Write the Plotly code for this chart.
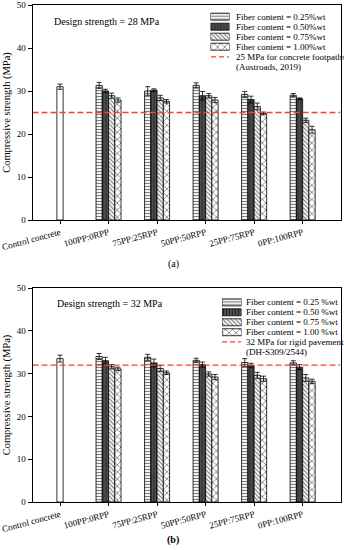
import plotly.graph_objects as go

categories = ["Control concrete", "100PP:0RPP", "75PP:25RPP", "50PP:50RPP", "25PP:75RPP", "0PP:100RPP"]

# Chart (a) - design strength 28 MPa
control_a = 31.0
control_a_err = 0.6
a_025 = [31.3, 30.0, 31.3, 29.2, 29.0]
a_025_err = [0.7, 1.0, 0.6, 0.7, 0.4]
a_050 = [30.0, 30.2, 28.9, 28.0, 28.2]
a_050_err = [0.4, 0.3, 1.0, 0.8, 0.2]
a_075 = [28.9, 28.4, 28.9, 26.4, 23.2]
a_075_err = [0.6, 0.6, 0.5, 0.8, 0.5]
a_100 = [27.9, 27.6, 27.9, 24.8, 21.0]
a_100_err = [0.5, 0.4, 0.6, 0.3, 0.8]
limit_a = 25

# Chart (b) - design strength 32 MPa
control_b = 33.5
control_b_err = 0.8
b_025 = [34.0, 33.8, 33.1, 32.6, 32.5]
b_025_err = [0.7, 0.7, 0.5, 0.9, 0.5]
b_050 = [33.0, 32.5, 32.1, 31.9, 31.5]
b_050_err = [0.8, 0.9, 0.6, 0.5, 0.6]
b_075 = [31.6, 31.2, 29.9, 29.6, 29.0]
b_075_err = [0.5, 0.7, 0.5, 0.7, 0.8]
b_100 = [31.1, 30.2, 29.2, 28.8, 28.2]
b_100_err = [0.4, 0.4, 0.6, 0.6, 0.5]
limit_b = 32

legend_a = ["Fiber content = 0.25%wt", "Fiber content = 0.50%wt",
            "Fiber content = 0.75%wt", "Fiber content = 1.00%wt"]
line_label_a = ["25 MPa for concrete footpaths", "(Austroads, 2019)"]
legend_b = ["Fiber content = 0.25 %wt", "Fiber content = 0.50 %wt",
            "Fiber content = 0.75 %wt", "Fiber content = 1.00 %wt"]
line_label_b = ["32 MPa for rigid pavement", "(DH-S309/2544)"]

FONT = "Liberation Serif"
styles = [
    dict(color="white", pattern=dict(shape="-", fgcolor="black", bgcolor="white", size=3, solidity=0.4)),
    dict(color="#555555", pattern=dict(shape="|", fgcolor="black", bgcolor="#555555", size=3, solidity=0.45)),
    dict(color="white", pattern=dict(shape="\\", fgcolor="black", bgcolor="white", size=3, solidity=0.4)),
    dict(color="white", pattern=dict(shape="x", fgcolor="black", bgcolor="white", size=5, solidity=0.3)),
]
BW = 0.129
offsets = [-2 * BW, -BW, 0, BW]
XR = [-0.567, 5.78]

fig = go.Figure()

def add_panel(xa, ya, control, control_err, series, errs, limit):
    xs = list(range(1, len(categories)))
    fig.add_trace(go.Bar(
        x=[0], y=[control], width=BW, offset=-BW / 2,
        marker=dict(color="white", line=dict(color="black", width=0.8)),
        error_y=dict(type="data", array=[control_err], color="black", thickness=0.8, width=2.5),
        xaxis=xa, yaxis=ya, showlegend=False))
    for i, (vals, err) in enumerate(zip(series, errs)):
        fig.add_trace(go.Bar(
            x=xs, y=vals, width=BW, offset=offsets[i],
            marker=dict(color=styles[i]["color"], pattern=styles[i]["pattern"],
                        line=dict(color="black", width=0.8)),
            error_y=dict(type="data", array=err, color="black", thickness=0.8, width=2.5),
            xaxis=xa, yaxis=ya, showlegend=False))
    fig.add_trace(go.Scatter(
        x=XR, y=[limit, limit], mode="lines",
        line=dict(color="#ff3b3b", width=1.3, dash="6px,3px"),
        xaxis=xa, yaxis=ya, showlegend=False, hoverinfo="skip"))

add_panel("x", "y", control_a, control_a_err, [a_025, a_050, a_075, a_100],
          [a_025_err, a_050_err, a_075_err, a_100_err], limit_a)
add_panel("x2", "y2", control_b, control_b_err, [b_025, b_050, b_075, b_100],
          [b_025_err, b_050_err, b_075_err, b_100_err], limit_b)

# legend keys (swatches) drawn as patterned bars on small helper axes
def add_keys(xa, ya, labels):
    for i, lab in enumerate(labels):
        fig.add_trace(go.Bar(
            x=[1], y=[i], orientation="h", width=0.7,
            marker=dict(color=styles[i]["color"], pattern=styles[i]["pattern"],
                        line=dict(color="black", width=0.8)),
            xaxis=xa, yaxis=ya, showlegend=False, hoverinfo="skip", name=lab))

add_keys("x3", "y3", legend_a)
add_keys("x4", "y4", legend_b)

def px_y(py):
    return (550 - py) / 550

def px_x(px):
    return px / 344

axis_common = dict(showline=True, linecolor="black", linewidth=1, mirror=True, automargin=False,
                   showgrid=False, zeroline=False, ticks="outside", tickcolor="black",
                   tickfont=dict(family=FONT, size=9, color="black"))
hidden = dict(visible=False, fixedrange=True, automargin=False)
xdom = [px_x(32.5), px_x(340.5)]
ytitle = dict(text="Compressive strength (MPa)", standoff=4,
              font=dict(family=FONT, size=10.5, color="black"))

fig.update_layout(
    width=344, height=550, margin=dict(l=0, r=0, t=0, b=0, autoexpand=False),
    paper_bgcolor="white", plot_bgcolor="white", barmode="overlay",
    showlegend=False, font=dict(family=FONT, color="black"),
    xaxis=dict(domain=xdom, range=XR, tickvals=list(range(len(categories))), ticktext=categories,
               tickangle=-15, ticklen=3, anchor="y", ticklabeloverflow="allow", **axis_common),
    yaxis=dict(domain=[px_y(220), px_y(5)], range=[0, 50], dtick=10, ticklen=4, anchor="x",
               title=ytitle, **axis_common),
    xaxis2=dict(domain=xdom, range=XR, tickvals=list(range(len(categories))), ticktext=categories,
                tickangle=-15, ticklen=3, anchor="y2", ticklabeloverflow="allow", **axis_common),
    yaxis2=dict(domain=[px_y(502), px_y(288)], range=[0, 50], dtick=10, ticklen=4, anchor="x2",
                title=ytitle, **axis_common),
    xaxis3=dict(domain=[px_x(210.5), px_x(229.5)], range=[0, 1], anchor="y3", **hidden),
    yaxis3=dict(domain=[px_y(51.7), px_y(11.7)], range=[3.5, -0.5], anchor="x3", **hidden),
    xaxis4=dict(domain=[px_x(222), px_x(241.5)], range=[0, 1], anchor="y4", **hidden),
    yaxis4=dict(domain=[px_y(337.2), px_y(297.4)], range=[3.5, -0.5], anchor="x4", **hidden),
)

shapes = []
annotations = []

def legend_block(x_sw0, x_sw1, x_text, rows, labels, line_labels):
    shapes.append(dict(type="line", xref="paper", yref="paper",
                       x0=px_x(x_sw0), x1=px_x(x_sw1), y0=px_y(rows[4]), y1=px_y(rows[4]),
                       line=dict(color="#ff3b3b", width=1.3, dash="5px,3px")))
    for lab, r in zip(labels + line_labels, rows):
        annotations.append(dict(text=lab, xref="paper", yref="paper", x=px_x(x_text), y=px_y(r),
                                xanchor="left", yanchor="middle", showarrow=False,
                                font=dict(family=FONT, size=9, color="black")))

legend_block(211, 229, 234, [16.7, 26.5, 36.7, 46.7, 56.9, 67.0], legend_a, line_label_a)
legend_block(222, 241, 244, [302.3, 312.5, 322.3, 332.0, 341.8, 351.5], legend_b, line_label_b)

annotations.append(dict(text="Design strength = 28 MPa", xref="paper", yref="paper",
                        x=px_x(52), y=px_y(21.5), xanchor="left", yanchor="middle", showarrow=False,
                        font=dict(family=FONT, size=10, color="black")))
annotations.append(dict(text="Design strength = 32 MPa", xref="paper", yref="paper",
                        x=px_x(55), y=px_y(303), xanchor="left", yanchor="middle", showarrow=False,
                        font=dict(family=FONT, size=10, color="black")))
annotations.append(dict(text="(a)", xref="paper", yref="paper", x=px_x(173), y=px_y(264),
                        xanchor="center", yanchor="middle", showarrow=False,
                        font=dict(family=FONT, size=10, color="black")))
annotations.append(dict(text="<b>(b)</b>", xref="paper", yref="paper", x=px_x(173), y=px_y(540),
                        xanchor="center", yanchor="middle", showarrow=False,
                        font=dict(family=FONT, size=10, color="black")))

fig.update_layout(shapes=shapes, annotations=annotations)
fig.write_html("out.html", config={"displayModeBar": False},
               post_script="document.body.style.margin='0';document.body.style.overflow='hidden';")
